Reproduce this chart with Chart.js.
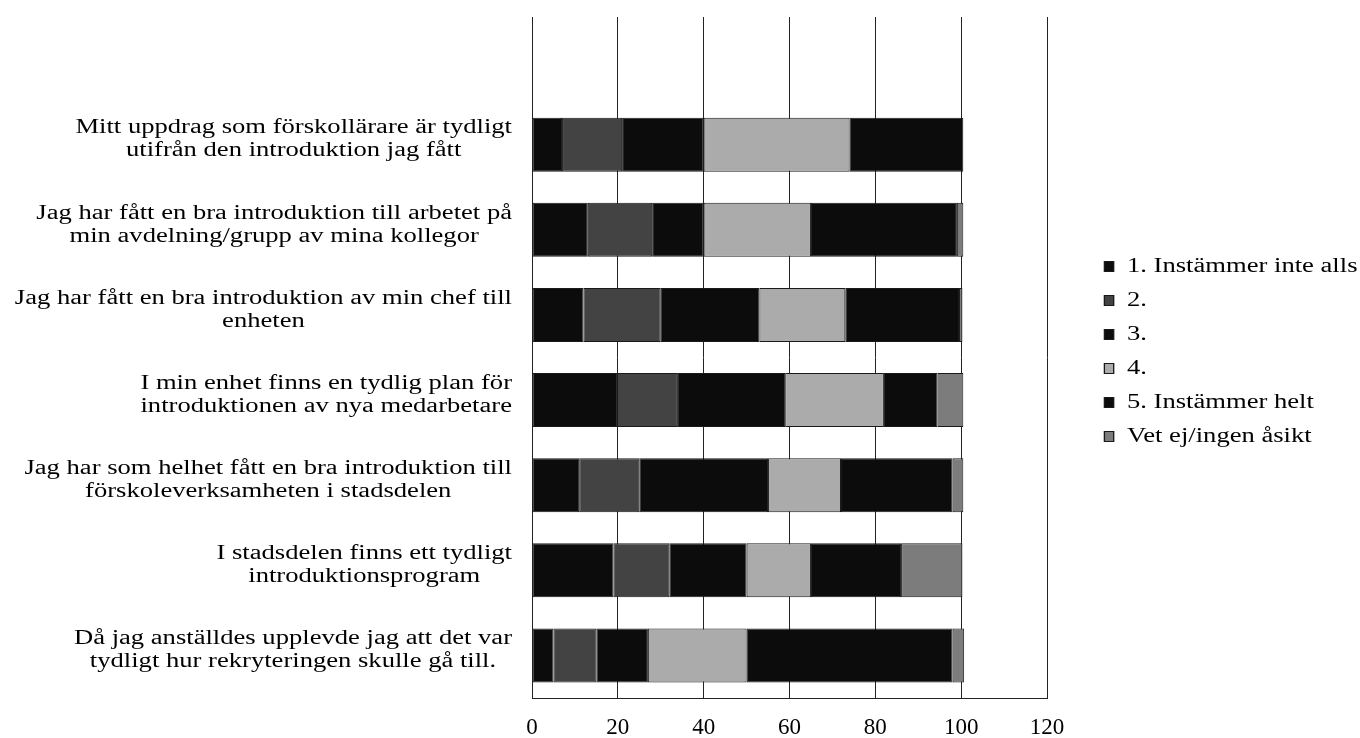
<!DOCTYPE html>
<html>
<head>
<meta charset="utf-8">
<script src="https://cdn.jsdelivr.net/npm/chart.js@4.4.1/dist/chart.umd.min.js"></script>
<style>
  html, body { margin: 0; padding: 0; background: #fff; }
  #chartWrapper { width: 1360px; height: 738px; }
</style>
</head>
<body>
<div id="chartWrapper"><canvas id="finalGraph"></canvas></div>
<script>
// first row is empty on purpose (blank row in the source sheet)
const categories = [
  [],
  ['Mitt uppdrag som förskollärare är tydligt', 'utifrån den introduktion jag fått'],
  ['Jag har fått en bra introduktion till arbetet på', 'min avdelning/grupp av mina kollegor'],
  ['Jag har fått en bra introduktion av min chef till', 'enheten'],
  ['I min enhet finns en tydlig plan för', 'introduktionen av nya medarbetare'],
  ['Jag har som helhet fått en bra introduktion till', 'förskoleverksamheten i stadsdelen'],
  ['I stadsdelen finns ett tydligt', 'introduktionsprogram'],
  ['Då jag anställdes upplevde jag att det var', 'tydligt hur rekryteringen skulle gå till.']
];

const seriesNames = ['1. Instämmer inte alls', '2.', '3.', '4.', '5. Instämmer helt', 'Vet ej/ingen åsikt'];
const s1 = [null, 7, 13, 12, 20, 11, 19, 5];
const s2 = [null, 14, 15, 18, 14, 14, 13, 10];
const s3 = [null, 19, 12, 23, 25, 30, 18, 12];
const s4 = [null, 34, 25, 20, 23, 17, 15, 23];
const s5 = [null, 26.5, 34, 26.5, 12.5, 26, 21, 48];
const s6 = [null, 0, 1.5, 0.8, 6, 2.5, 14.3, 2.7];
const seriesColors = ['#0c0c0c', '#434343', '#0c0c0c', '#ababab', '#0c0c0c', '#7c7c7c'];

const xTicks = [0, 20, 40, 60, 80, 100, 120];

// the source text is set wide, so it gets stretched sideways
const textStretch = 1.33;
const serif = '"Liberation Serif", "Times New Roman", serif';

// category labels: lines centred on each other, block right-aligned to the plot
const categoryLabels = {
  id: 'categoryLabels',
  afterDraw(chart) {
    const { ctx, chartArea, scales } = chart;
    ctx.save();
    ctx.font = '20px ' + serif;
    ctx.fillStyle = '#000';
    ctx.textAlign = 'center';
    ctx.textBaseline = 'middle';
    categories.forEach((lines, i) => {
      if (!lines.length) return;
      const w = Math.max(...lines.map(l => ctx.measureText(l).width)) * textStretch;
      const cx = chartArea.left - 20 - w / 2;
      const cy = scales.y.getPixelForValue(i) - 5;
      lines.forEach((line, k) => {
        const ly = cy + (k - (lines.length - 1) / 2) * 23;
        ctx.save();
        ctx.translate(cx, ly);
        ctx.scale(textStretch, 1);
        ctx.fillText(line, 0, 0);
        ctx.restore();
      });
    });
    ctx.restore();
  }
};

// keep the legend at a fixed width and stretch its text like the rest
const legendBox = {
  id: 'legendBox',
  beforeInit(chart) {
    const legend = chart.legend;
    const fit = legend.fit;
    legend.fit = function () {
      fit.call(this);
      this.width = 313;
    };
    const draw = legend.draw;
    legend.draw = function () {
      const lab = this.options.labels;
      const textX = this.left + lab.padding + lab.boxWidth + lab.font.size / 2;
      const ctx = this.ctx;
      ctx.save();
      ctx.translate(1127 - textStretch * textX, -6);
      ctx.scale(textStretch, 1);
      draw.call(this);
      ctx.restore();
    };
  }
};

const datasets = seriesNames.map((name, i) => ({
  label: name,
  data: [s1, s2, s3, s4, s5, s6][i],
  backgroundColor: seriesColors[i],
  borderColor: '#1a1a1a',
  borderWidth: 1,
  borderSkipped: false,
  categoryPercentage: 1,
  barPercentage: 0.635
}));

const ctx = document.getElementById('finalGraph').getContext('2d');
new Chart(ctx, {
  type: 'bar',
  data: { labels: categories, datasets },
  options: {
    indexAxis: 'y',
    responsive: true,
    maintainAspectRatio: false,
    animation: false,
    layout: { padding: { top: 17, right: 0, bottom: 0, left: 0 } },
    scales: {
      x: {
        stacked: true,
        min: 0,
        max: 120,
        afterBuildTicks: scale => { scale.ticks = xTicks.map(v => ({ value: v })); },
        afterFit: scale => { scale.height = 40; },
        grid: { color: '#222', lineWidth: 1, drawTicks: false },
        border: { display: true, color: '#222', width: 1 },
        ticks: {
          color: '#000',
          padding: 16,
          font: { family: serif, size: 23 }
        }
      },
      y: {
        stacked: true,
        afterFit: scale => { scale.width = 532; },
        grid: { display: false, drawTicks: false },
        border: { display: true, color: '#222', width: 1 },
        ticks: { display: false }
      }
    },
    plugins: {
      legend: {
        position: 'right',
        align: 'center',
        fullSize: false,
        labels: {
          color: '#000',
          boxWidth: 7,
          boxHeight: 10,
          padding: 14,
          font: { family: serif, size: 20 }
        }
      },
      tooltip: { enabled: false }
    }
  },
  plugins: [categoryLabels, legendBox]
});
</script>
</body>
</html>
